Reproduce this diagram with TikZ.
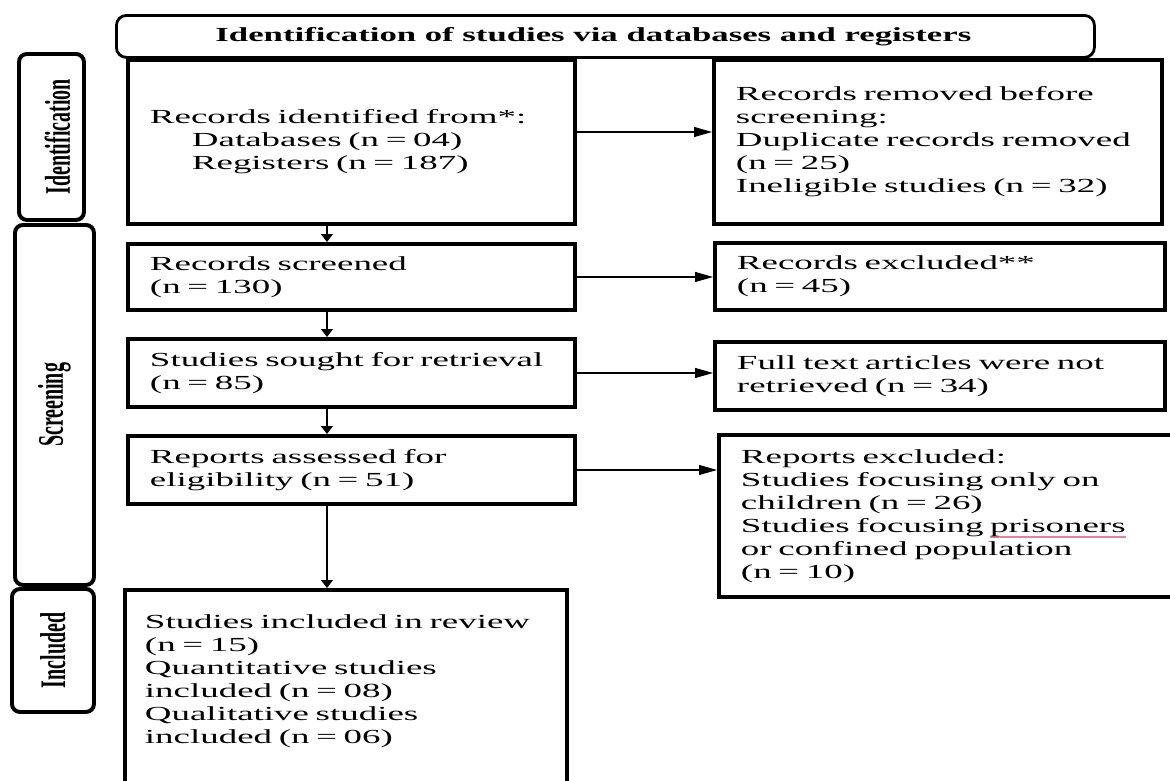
\documentclass[tikz,border=0pt]{standalone}
\usepackage{fontspec}
\usepackage{xcolor}
\usepackage{graphicx}
\usepackage{tikz}
\usetikzlibrary{arrows.meta}
\setmainfont{Liberation Serif}[FakeStretch=1.85]
\newfontfamily\headfont{Liberation Serif}[FakeStretch=1.74]
\newfontfamily\sidefont{Liberation Serif}
\definecolor{prismaink}{RGB}{0,0,0}
\definecolor{spellpink}{RGB}{236,128,150}
\newcommand{\prismasize}{\fontsize{14.2pt}{16.4pt}\selectfont}
\newcommand{\spellmark}[1]{\setbox0=\hbox{#1}\rlap{\color{spellpink}\rule[-0.3em]{\wd0}{0.1em}}#1}

\begin{document}
\begin{tikzpicture}[
    stagebox/.style={draw=prismaink, line width=2.8pt, anchor=north west, align=left, inner sep=0pt, font=\prismasize},
    phasebox/.style={draw=prismaink, line width=2.8pt, rounded corners=0.2cm, anchor=north west, inner sep=0pt},
    flowright/.style={-{Triangle[length=0.45cm,width=0.25cm]}, line width=0.8pt},
    flowdown/.style={-{Triangle[length=0.2cm,width=0.3cm]}, line width=0.8pt}
]
    \useasboundingbox (0,0) rectangle (29.25,-19.5);
    \clip (0,0) rectangle (29.25,-19.5);

    % Header
    \node[draw=prismaink, line width=2pt, rounded corners=0.25cm, anchor=north west, inner sep=0pt,
          minimum width=24.45cm, minimum height=1.05cm, font=\headfont\prismasize\bfseries] (head) at (2.875,-0.35)
          {Identification of studies via databases and registers\hspace*{0.6cm}};

    % Phase labels
    \node[phasebox, minimum width=1.625cm, minimum height=4.15cm] (idlab) at (0.425,-1.3)
          {\rotatebox{90}{\raisebox{-0.15cm}[\height][\depth]{\scalebox{1}[1.8]{\sidefont\bfseries\prismasize Identification}}}};
    \node[phasebox, minimum width=1.975cm, minimum height=9.0cm] (scrlab) at (0.325,-5.575)
          {\rotatebox{90}{\scalebox{1}[1.8]{\sidefont\bfseries\prismasize Screening}}};
    \node[phasebox, minimum width=2.05cm, minimum height=3.075cm] (inclab) at (0.25,-14.675)
          {\rotatebox{90}{\scalebox{1}[1.8]{\sidefont\bfseries\prismasize Included}}};

    % Main column
    \node[stagebox, minimum width=11.175cm, minimum height=4.1cm, text width=10.075cm] (ident) at (3.15,-1.45)
          {Records identified from*:\\\hspace*{1.05cm}Databases (n = 04)\\\hspace*{1.05cm}Registers (n = 187)};
    \node[stagebox, minimum width=11.175cm, minimum height=1.65cm, text width=10.075cm] (screened) at (3.15,-6.05)
          {Records screened\\(n = 130)};
    \node[stagebox, minimum width=11.175cm, minimum height=1.7cm, text width=10.075cm] (sought) at (3.15,-8.425)
          {Studies sought for retrieval\\(n = 85)};
    \node[stagebox, minimum width=11.175cm, minimum height=1.7cm, text width=10.075cm] (assessed) at (3.15,-10.85)
          {Reports assessed for\\eligibility (n = 51)};
    \node[stagebox, minimum width=11.05cm, minimum height=5.3cm, text width=10.05cm] (included) at (3.075,-14.7)
          {Studies included in review\\(n = 15)\\Quantitative studies\\included (n = 08)\\Qualitative studies\\included (n = 06)\rule[-0.85cm]{0pt}{0.85cm}};

    % Exclusion column
    \node[stagebox, minimum width=11.2cm, minimum height=4.1cm, text width=10.1cm] (removed) at (17.8,-1.45)
          {Records removed before\\screening:\\Duplicate records removed\\(n = 25)\\Ineligible studies (n = 32)};
    \node[stagebox, minimum width=11.25cm, minimum height=1.675cm, text width=10.15cm] (excluded) at (17.825,-6.025)
          {Records excluded**\\(n = 45)};
    \node[stagebox, minimum width=11.25cm, minimum height=1.7cm, text width=10.15cm] (notret) at (17.825,-8.5)
          {Full text articles were not\\retrieved (n = 34)};
    \node[stagebox, minimum width=11.95cm, minimum height=4.05cm, text width=10.85cm] (repexcl) at (17.925,-10.825)
          {Reports excluded:\\Studies focusing only on\\children (n = 26)\\Studies focusing \spellmark{prisoners}\\or confined population\\(n = 10)};

    % Arrows
    \draw[flowright] ([yshift=0.25cm]ident.east) -- ([yshift=0.25cm]removed.west);
    \draw[flowright] (screened.east) -- (screened.east -| excluded.west);
    \draw[flowright] (sought.east) -- (sought.east -| notret.west);
    \draw[flowright] (assessed.east) -- (assessed.east -| repexcl.west);
    \draw[flowdown] ([xshift=-0.6125cm]ident.south) -- ([xshift=-0.6125cm]screened.north);
    \draw[flowdown] ([xshift=-0.6125cm]screened.south) -- ([xshift=-0.6125cm]sought.north);
    \draw[flowdown] ([xshift=-0.6125cm]sought.south) -- ([xshift=-0.6125cm]assessed.north);
    \coordinate (down4) at ([xshift=-0.6125cm]assessed.south);
    \draw[flowdown] (down4) -- (down4 |- included.north);
\end{tikzpicture}
\end{document}
